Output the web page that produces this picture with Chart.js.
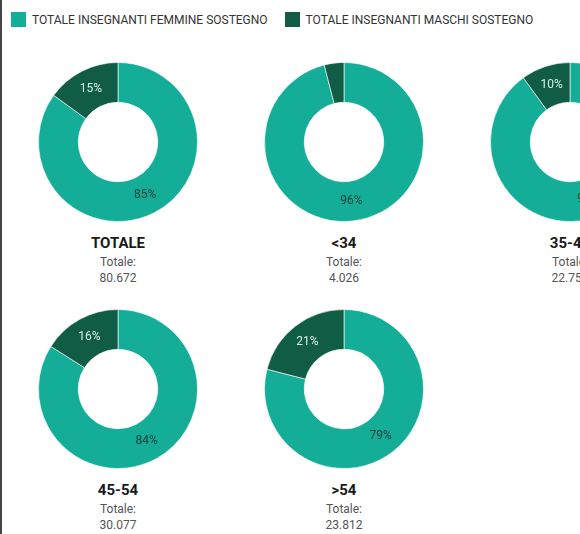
<!DOCTYPE html>
<html>
<head>
<meta charset="utf-8">
<script src="https://cdn.jsdelivr.net/npm/chart.js@4"></script>
<style>
  html, body { margin: 0; padding: 0; background: #fff; }
  body { width: 580px; height: 534px; overflow: hidden; position: relative; font-family: Roboto, sans-serif; }
  .edge { position: absolute; left: 0; top: 0; width: 2px; height: 534px; background: #444; }
  .legend { position: absolute; top: 12px; left: 11px; white-space: nowrap; font-size: 12px; color: #333; }
  .legend span.box { display: inline-block; width: 15px; height: 15px; vertical-align: -3px; margin-right: 6px; }
  .legend span.item { margin-right: 14px; }
  .pie { position: absolute; width: 170px; height: 170px; }
  .cap { position: absolute; width: 180px; text-align: center; color: #555; font-size: 12px; line-height: 16px; }
  .cap b { display: block; color: #1a1a1a; font-size: 15px; line-height: 20px; margin-bottom: 1px; }
</style>
</head>
<body>
<div class="edge"></div>
<div class="legend">
  <span class="item"><span class="box" style="background:#14AE98"></span>TOTALE INSEGNANTI FEMMINE SOSTEGNO</span>
  <span class="item"><span class="box" style="background:#105C45"></span>TOTALE INSEGNANTI MASCHI SOSTEGNO</span>
</div>
<script>
var groups = ['TOTALE', '<34', '35-44', '45-54', '>54'];
var totals = ['80.672', '4.026', '22.757', '30.077', '23.812'];
var femmine = [85, 96, 90, 84, 79];
var maschi = [15, 4, 10, 16, 21];
var seriesLabels = ['TOTALE INSEGNANTI FEMMINE SOSTEGNO', 'TOTALE INSEGNANTI MASCHI SOSTEGNO'];
var colors = ['#14AE98', '#105C45'];
var labelColors = ['#0f3f33', '#d8efe9'];

// positions of each donut centre on the page
var centres = [[118, 142], [344, 142], [570, 142], [118, 389], [344, 389]];

var pctLabels = {
  id: 'pctLabels',
  afterDatasetsDraw: function(chart) {
    var ctx = chart.ctx;
    var meta = chart.getDatasetMeta(0);
    ctx.save();
    ctx.font = '12px Roboto, sans-serif';
    ctx.textAlign = 'center';
    ctx.textBaseline = 'middle';
    meta.data.forEach(function(arc, i) {
      var v = chart.data.datasets[0].data[i];
      if (v < 5) return;
      var p = arc.tooltipPosition();
      ctx.fillStyle = labelColors[i];
      ctx.fillText(v + '%', p.x, p.y);
    });
    ctx.restore();
  }
};

groups.forEach(function(g, i) {
  var cx = centres[i][0], cy = centres[i][1];
  var cv = document.createElement('canvas');
  cv.className = 'pie';
  cv.style.left = (cx - 85) + 'px';
  cv.style.top = (cy - 85) + 'px';
  document.body.appendChild(cv);

  var cap = document.createElement('div');
  cap.className = 'cap';
  cap.style.left = (cx - 90) + 'px';
  cap.style.top = (cy + 91) + 'px';
  cap.innerHTML = '<b></b>Totale:<br>' + totals[i];
  cap.querySelector('b').textContent = g;
  document.body.appendChild(cap);

  new Chart(cv.getContext('2d'), {
    type: 'doughnut',
    data: {
      labels: seriesLabels,
      datasets: [{
        data: [femmine[i], maschi[i]],
        backgroundColor: colors,
        borderColor: 'rgba(255,255,255,0.6)',
        borderWidth: 1
      }]
    },
    options: {
      responsive: false,
      animation: false,
      cutout: '50%',
      layout: { padding: 5 },
      plugins: { legend: { display: false }, tooltip: { enabled: false } }
    },
    plugins: [pctLabels]
  });
});
</script>
</body>
</html>
